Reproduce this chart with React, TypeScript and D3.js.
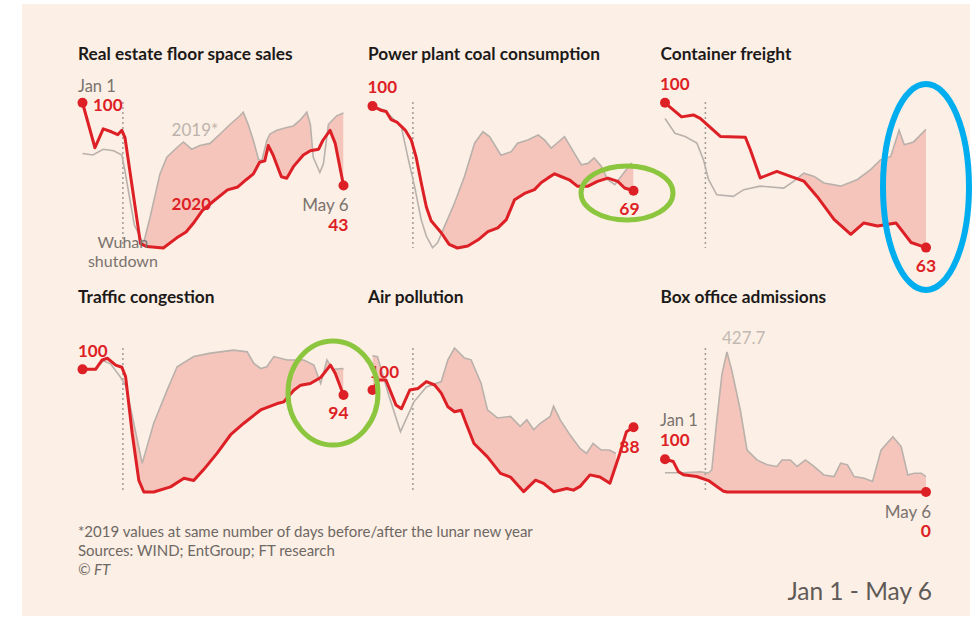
import React from "react";
import * as d3 from "d3";

// ---------- DATA (day index from Jan 1 = 0 to May 6 = 126) ----------
type P = [number, number];

const realEstate2020: P[] = [[0,100],[6,69],[10,82],[14,80],[17,78],[19,81],[20.5,76],[28,3],[31,1],[39,0],[45.5,7],[50,11],[53.5,17],[58,26],[63,32],[70,40],[75,42],[79,47],[82.5,51],[85.5,59],[88,60],[89.7,70.5],[92,64],[96,49],[98.6,48],[101.8,56],[106.6,64],[110,67],[114,68],[116,74],[119.5,81],[122,72],[126,43]];
const realEstate2019: P[] = [[0,65],[5,64],[10,68],[15,67],[19,64],[20.5,53],[25,16],[29.4,3],[32.6,21],[37.4,51],[40.7,62.5],[45.5,69],[48.7,73],[52.7,68],[56.7,70.5],[61.6,72],[66.4,78.5],[71.2,85],[76,91],[77.6,93.5],[80,85],[82.5,74],[85,61],[86.5,60],[89,74],[90.5,78.5],[93.8,81],[98.6,83],[101.8,84],[105,88],[108.3,93.5],[110,85],[111.4,62.5],[114.6,52],[116.3,58],[118.7,85],[122.7,91],[126,93]];

const coal2020: P[] = [[0,100],[4,98.5],[6.6,98],[9,95],[12,94],[16,91],[18.7,87.6],[21,81.5],[23.5,72],[26,63],[28.3,58],[33.2,53.6],[37,49.3],[41,48],[46,48.7],[51,51],[55.7,54],[60.5,55.4],[64.6,58.4],[68.6,65.7],[73.4,68],[78.2,69.4],[81.5,72],[84.6,73.6],[87.9,75.2],[91,74.2],[95,73],[99,70.6],[103.8,70.6],[108.6,72.4],[113.6,73.6],[118.4,72.4],[121.7,70],[126,69]];
const coal2019: P[] = [[0,100],[5.8,98.5],[13.9,92.5],[17,81.5],[20.3,70.6],[23.5,58.4],[26,52.3],[29,48.1],[31.5,50],[34.8,56],[39.6,64.5],[44.4,74.2],[49.3,86.4],[53.3,90.6],[56.5,88.8],[62,82],[67,83.3],[70,86.4],[75,87.6],[80,89.4],[83,87.6],[86.3,84.6],[92.7,88.8],[97.5,82.7],[100.8,78.5],[104,79],[107,81],[110.4,78],[113.6,73],[117,71.2],[120,74.2],[124.8,79],[126,78]];

const freight2020: P[] = [[0,100],[8,96.4],[13.7,96.9],[17,96],[26.7,91.4],[38.8,91.2],[41.2,88],[46,80.8],[54,82.5],[60.6,81.2],[67,80],[73.5,76],[81.6,70.2],[89.7,66.4],[96,69.3],[102.6,68.5],[111.5,69.3],[118.8,64.3],[126,63]];
const freight2019: P[] = [[0,96],[4.8,92.2],[9.7,91.4],[15.4,89.7],[18.6,85.4],[21,80.4],[25,76.5],[33,76.1],[38,77.8],[46,78.7],[57.3,78.2],[62.2,80],[67,82],[72,81.2],[76.7,79.5],[84.8,78.7],[92.9,80.4],[99.4,83],[104,85.4],[109,86.3],[113,93],[115.5,89.3],[120,90],[126,93.2]];

const traffic2020: P[] = [[0,100],[6.3,100],[9.5,102.2],[12,102.6],[16,101],[19,100.5],[20.8,98.3],[24,85],[27.2,74],[29.6,71.3],[34.4,71.3],[42.5,72.5],[49,74.5],[53.7,74],[58.6,76.6],[65,80.4],[71.5,84.7],[77.9,87.4],[86,90.5],[94,92],[97.2,92.4],[102,95.1],[105.3,96.3],[110,96.7],[115,98.1],[119.7,101],[122,99.1],[126,94]];
const traffic2019: P[] = [[0,100],[6,100],[10,102],[13.5,101.3],[18.3,98.2],[21,96],[24.5,88],[28.8,78],[34.4,87.4],[40.9,95.2],[45.7,100.6],[53.7,103],[61.8,103.8],[73,104.5],[79.5,104.1],[82.7,101.4],[86,100.2],[89,100.6],[92.4,103],[98.8,102.2],[106.8,102.2],[111.7,101],[115,96.7],[118,102.2],[121,100],[125.4,100.2],[126,100]];

const air2020: P[] = [[0,100],[3,103.2],[6.5,103.2],[11.3,95.2],[14,94],[18,100],[22,100.5],[26,102.7],[30,101.6],[33.2,99],[36.4,94.6],[39.6,93],[42.8,93.5],[45.2,89.2],[49,82.8],[55.5,78.5],[61.8,73.2],[66.6,72],[73,67.3],[78.7,71],[82.6,70],[87.4,67.3],[93.8,68.3],[97,67.8],[100.2,69],[105,72.7],[109.8,72],[114.6,70],[119.4,79.6],[122.6,86.6],[126,88]];
const air2019: P[] = [[0,111],[2.4,110.7],[8,98],[13.5,86.6],[20,96.2],[26,101],[33.2,102.7],[36.4,109.7],[39.6,113.5],[44.4,110.3],[47.6,109.7],[52.4,102.2],[55.5,93.6],[60.3,91],[66.6,91.5],[71.3,88.3],[74.5,90.4],[77.8,87.2],[81,89.3],[85.8,91.5],[87.4,94.8],[90.6,90.4],[95.4,85.5],[100.2,81.2],[103.3,79.6],[106.5,82.8],[110.4,80.7],[114.4,80.7],[117.5,79.6]];

const box2020: P[] = [[0,100],[4,93],[6.4,63],[8.9,52.5],[15.3,47.4],[21,35],[25,17],[28.3,2],[30,0],[126,0]];
const box2019: P[] = [[0,59],[8.9,59],[17,62],[21,58],[22.6,68],[25,219],[27.5,360],[29.9,427.7],[32.3,370],[36.4,249],[39.6,128],[44.4,98],[49.3,83],[54,78],[56.5,98],[60.5,98],[63.8,78],[67.8,98],[71.9,78],[76.7,52],[81.6,47],[84.8,88],[88.1,83],[91.3,47],[96.2,42],[100.2,32],[104.3,128],[110,169],[114,139],[117.2,52],[120.4,57.5],[123.7,57.5],[126,47]];

const titles = ["Real estate floor space sales", "Power plant coal consumption", "Container freight", "Traffic congestion", "Air pollution", "Box office admissions"];
const startLabels = ["100", "100", "100", "100", "100", "100"];
const endLabels = ["43", "69", "63", "94", "88", "0"];
const shutdownDay = 19.5;
const lastDay = 126;
const footnotes = ["*2019 values at same number of days before/after the lunar new year", "Sources: WIND; EntGroup; FT research", "\u00A9 FT"];
const periodLabel = "Jan 1 - May 6";

// ---------- LAYOUT ----------
const colX = [82.5, 372.5, 665];
const plotW = 261;
const rowTop = [102, 348];
const rowBottom = [248, 492];
const titleY = [60, 303];

const RED = "#dd1f26";
const GREY = "#b9b1ab";
const FILL = "#f3bdb5";
const BG = "#fcefe5";
const FONT = "Lato, 'Open Sans', sans-serif";

interface Panel {
  s20: P[]; s19: P[]; domain: [number, number];
  start: { dx: number; dy: number; anchor: string };
  end: { dx: number; dy: number; anchor: string };
  jan?: { dx: number; dy: number };
  may?: { dx: number; dy: number };
}

const panels: Panel[] = [
  { s20: realEstate2020, s19: realEstate2019, domain: [0, 100.5], start: { dx: 10.5, dy: 8.5, anchor: "start" }, end: { dx: 5, dy: 45, anchor: "end" }, jan: { dx: -4.5, dy: -11 }, may: { dx: 5, dy: 25 } },
  { s20: coal2020, s19: coal2019, domain: [48, 101.5], start: { dx: -5, dy: -13, anchor: "start" }, end: { dx: -4, dy: 24, anchor: "middle" } },
  { s20: freight2020, s19: freight2019, domain: [62.9, 100.2], start: { dx: -5, dy: -13, anchor: "start" }, end: { dx: 0, dy: 24, anchor: "middle" } },
  { s20: traffic2020, s19: traffic2019, domain: [71.3, 105], start: { dx: -4.5, dy: -12, anchor: "start" }, end: { dx: -5, dy: 24, anchor: "middle" } },
  { s20: air2020, s19: air2019, domain: [67.2, 113.5], start: { dx: -3, dy: -12, anchor: "start" }, end: { dx: -4, dy: 26, anchor: "middle" } },
  { s20: box2020, s19: box2019, domain: [0, 440], start: { dx: -5, dy: -13, anchor: "start" }, end: { dx: 5, dy: 45, anchor: "end" }, jan: { dx: -5, dy: -33 }, may: { dx: 5, dy: 26 } },
];

function PanelView({ p, i }: { p: Panel; i: number }) {
  const col = i % 3;
  const row = Math.floor(i / 3);
  const x = d3.scaleLinear().domain([0, lastDay]).range([colX[col], colX[col] + plotW]);
  const y = d3.scaleLinear().domain(p.domain).range([rowBottom[row], rowTop[row]]);
  const line = d3.line<P>().x(d => x(d[0])).y(d => y(d[1]));
  const area = d3.area<P>().x(d => x(d[0])).y0(rowBottom[row] + 20).y1(d => y(d[1]));
  const first = p.s20[0];
  const last = p.s20[p.s20.length - 1];
  const clipPath = (line(p.s20) || "") + `L${x(last[0])},${rowTop[row] - 40}L${x(first[0])},${rowTop[row] - 40}Z`;
  const sx = x(first[0]), sy = y(first[1]);
  const ex = x(last[0]), ey = y(last[1]);
  const clipId = `clip${i}`;
  return (
    <g>
      <defs>
        <clipPath id={clipId}><path d={clipPath} /></clipPath>
      </defs>
      <text x={colX[col] - 4.5} y={titleY[row]} fontFamily={FONT} fontWeight={700} fontSize={17.3} fill="#1c1a19">{titles[i]}</text>
      <path d={area(p.s19) || ""} fill={FILL} opacity={0.85} clipPath={`url(#${clipId})`} />
      <line x1={x(shutdownDay)} x2={x(shutdownDay)} y1={rowTop[row]} y2={rowBottom[row]} stroke="#a09a95" strokeWidth={1.5} strokeDasharray="2,3" />
      <path d={line(p.s19) || ""} fill="none" stroke={GREY} strokeWidth={1.6} />
      <path d={line(p.s20) || ""} fill="none" stroke={RED} strokeWidth={3} strokeLinejoin="round" />
      <circle cx={sx} cy={sy} r={5} fill={RED} />
      <circle cx={ex} cy={ey} r={5} fill={RED} />
      {p.jan && <text x={sx + p.jan.dx} y={sy + p.jan.dy} fontFamily={FONT} fontSize={16.5} fill="#7a736e">Jan 1</text>}
      <text x={sx + p.start.dx} y={sy + p.start.dy} textAnchor={p.start.anchor} fontFamily={FONT} fontWeight={700} fontSize={17} fill={RED}>{startLabels[i]}</text>
      {p.may && <text x={ex + p.may.dx} y={ey + p.may.dy} textAnchor="end" fontFamily={FONT} fontSize={17} fill="#7a736e">May 6</text>}
      <text x={ex + p.end.dx} y={ey + p.end.dy} textAnchor={p.end.anchor} fontFamily={FONT} fontWeight={700} fontSize={17.5} fill={RED}>{endLabels[i]}</text>
      {i === 0 && (
        <g fontFamily={FONT} fontSize={17}>
          <text x={x(43)} y={y(77)} fill="#bdb3ac">2019*</text>
          <text x={x(43)} y={y(26)} fill={RED} fontWeight={700}>2020</text>
          <text x={x(shutdownDay)} y={rowBottom[row] + 0} textAnchor="middle" fill="#7a736e" fontSize={16}>Wuhan</text>
          <text x={x(shutdownDay)} y={rowBottom[row] + 19} textAnchor="middle" fill="#7a736e" fontSize={16}>shutdown</text>
        </g>
      )}
      {i === 5 && (
        <text x={x(29.9) - 5} y={y(427.7) - 8} textAnchor="start" fontFamily={FONT} fontSize={17} fill="#c2b9b2">427.7</text>
      )}
    </g>
  );
}

export default function App() {
  return (
    <svg width={974} height={619} style={{ position: "absolute", left: 0, top: 0 }}>
      <rect x={0} y={0} width={974} height={619} fill="#ffffff" />
      <rect x={22} y={4} width={948} height={612} fill={BG} />
      {panels.map((p, i) => <PanelView key={i} p={p} i={i} />)}
      <g fontFamily={FONT} fontSize={15} fill="#6e6864">
        {footnotes.map((t, k) => (
          <text key={k} x={78} y={537 + k * 19} fontStyle={k === 2 ? "italic" : "normal"}>{t}</text>
        ))}
      </g>
      <text x={932} y={600} textAnchor="end" fontFamily={FONT} fontSize={24.5} fill="#5f5a57">{periodLabel}</text>
      <ellipse cx={627} cy={193} rx={46} ry={27} fill="none" stroke="#8cc63f" strokeWidth={5} />
      <ellipse cx={333} cy={393} rx={45} ry={52} fill="none" stroke="#8cc63f" strokeWidth={5} />
      <ellipse cx={926} cy={187} rx={43} ry={103} fill="none" stroke="#00aeef" strokeWidth={6} />
    </svg>
  );
}
